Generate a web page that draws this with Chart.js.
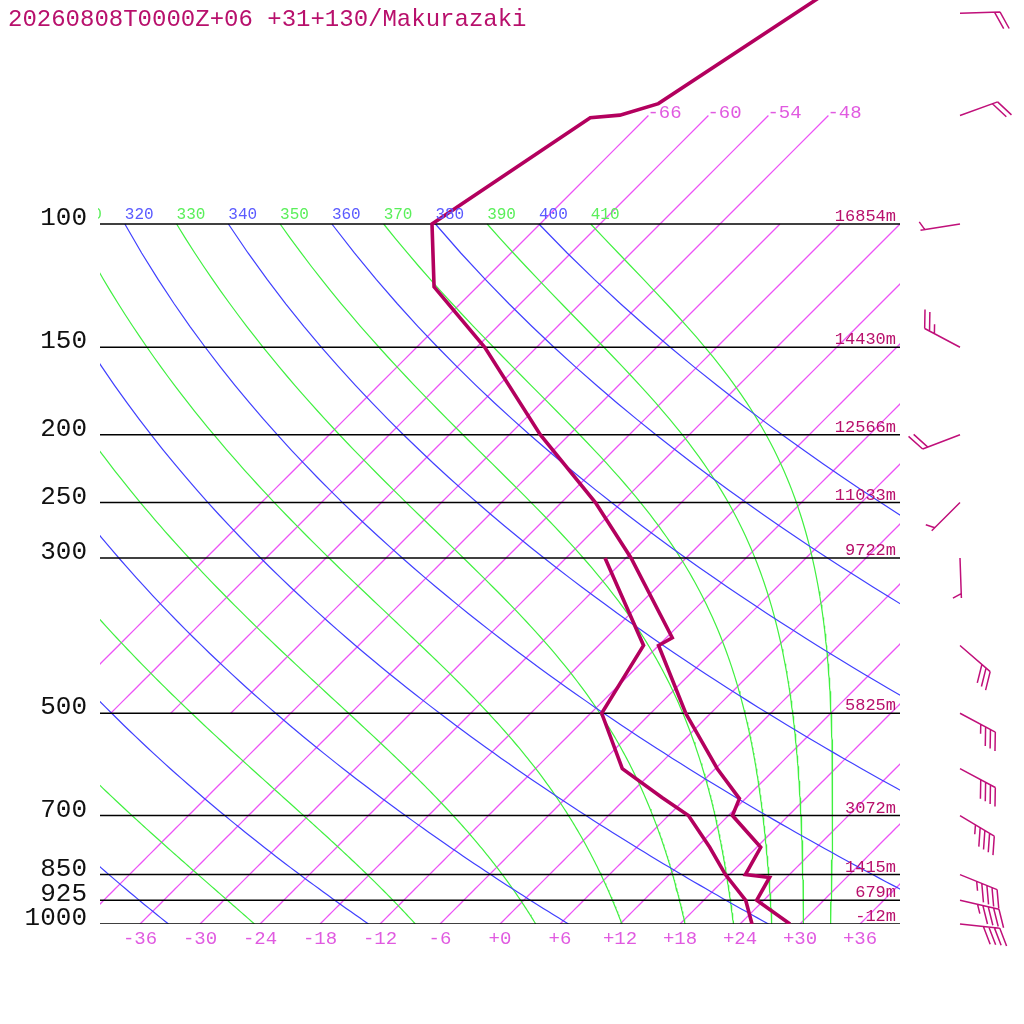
<!DOCTYPE html>
<html>
<head>
<meta charset="utf-8">
<script src="https://cdn.jsdelivr.net/npm/chart.js@4/dist/chart.umd.min.js"></script>
<style>
  html, body { margin: 0; padding: 0; background: #fff; }
  canvas { display: block; }
</style>
</head>
<body>
<canvas id="chart" width="1024" height="1024"></canvas>
<script>
const titleText = "20260808T0000Z+06 +31+130/Makurazaki";

// sounding (hPa, degC)
const tempPressure = [1000, 925, 858, 850, 777, 700, 662, 600, 500, 400, 390, 300, 250, 200, 150, 123, 100, 70.5, 69.9, 67.3, 30];
const tempValues = [29.0, 23.3, 22.3, 19.6, 18.4, 12.4, 11.4, 6.2, -2.5, -12.0, -11.4, -23.5, -32.6, -44.9, -59.2, -70.3, -76.8, -71.6, -68.9, -66.2, -53.5];
const dewPressure = [1000, 925, 850, 777, 700, 660, 600, 500, 400, 300];
const dewValues = [25.2, 22.2, 17.6, 13.3, 8.0, 3.6, -3.3, -10.9, -13.5, -26.1];

// winds (direction from, knots)
const windPressure = [50, 70, 100, 150, 200, 250, 300, 400, 500, 600, 700, 850, 925, 1000];
const windDir = [88, 70, 261, 298, 249, 225, 178, 131, 118, 118, 121, 112, 103, 96];
const windSpeed = [20, 20, 5, 25, 20, 5, 5, 30, 35, 40, 45, 45, 45, 40];

// standard levels and their heights
const levels = [100, 150, 200, 250, 300, 500, 700, 850, 925, 1000];
const levelHeights = ["16854m", "14430m", "12566m", "11033m", "9722m", "5825m", "3072m", "1415m", "679m", "-12m"];

// background lines
const isotherms = [-42, -36, -30, -24, -18, -12, -6, 0, 6, 12, 18, 24, 30, 36];
const isothermsUpper = [-66, -60, -54, -48];
const dryAdiabats = [240, 260, 280, 300, 320, 340, 360, 380, 400];
const moistAdiabats = [250, 270, 290, 310, 330, 350, 370, 390, 410];

const SKEW = 70; // degC per decade of pressure
const P_TOP = 1000 / Math.pow(10, 924 / 700);
const mono = '"Liberation Mono", "DejaVu Sans Mono", monospace';
const ISO_COLOR = "rgb(236, 84, 246)";

const skewX = (t, p) => t + SKEW * Math.log10(1000 / p);

const es = (tk) => 6.112 * Math.exp((17.67 * (tk - 273.15)) / (tk - 29.65));
const moistLapse = (tk, p) => {
  const e = es(tk);
  const r = (0.622 * e) / (p - e);
  return (287 * tk + 2.5e6 * r) / p / (1004 + (2.5e6 * 2.5e6 * r * 0.622) / (287 * tk * tk));
};

const dryLine = (theta) => {
  const pts = [];
  for (let p = 100; p <= 1000; p += 10) {
    pts.push({ x: skewX(theta * Math.pow(p / 1000, 0.286) - 273.15, p), y: p });
  }
  return pts;
};

const moistLine = (theta) => {
  let p = 100;
  let tk = theta * Math.pow(p / 1000, 0.286);
  const pts = [{ x: skewX(tk - 273.15, p), y: p }];
  const dp = 5;
  while (p < 1000) {
    const k1 = moistLapse(tk, p);
    const k2 = moistLapse(tk + (k1 * dp) / 2, p + dp / 2);
    tk += k2 * dp;
    p += dp;
    pts.push({ x: skewX(tk - 273.15, p), y: p });
  }
  return pts;
};

const isoLine = (t, pBottom, pTop) => {
  const pts = [];
  for (let p = pBottom; p >= pTop; p -= 10) pts.push({ x: skewX(t, p), y: p });
  return pts;
};

const lineSet = (data, color, width, order) => ({
  data,
  borderColor: color,
  backgroundColor: color,
  borderWidth: width,
  pointRadius: 0,
  tension: 0,
  fill: false,
  order,
});

const datasets = [];
datasets.push(lineSet(tempPressure.map((p, i) => ({ x: skewX(tempValues[i], p), y: p })), "#b3005e", 3.6, 0));
datasets.push(lineSet(dewPressure.map((p, i) => ({ x: skewX(dewValues[i], p), y: p })), "#b3005e", 3.6, 0));
levels.forEach((p) => datasets.push(lineSet([{ x: -40, y: p }, { x: 40, y: p }], "#000", 1.5, 1)));
dryAdiabats.forEach((th) => datasets.push(lineSet(dryLine(th), "rgb(64, 64, 255)", 1.2, 2)));
moistAdiabats.forEach((th) => datasets.push(lineSet(moistLine(th), "rgb(64, 240, 64)", 1.2, 2)));
isotherms.forEach((t) => datasets.push(lineSet(isoLine(t, 1000, 100), ISO_COLOR, 1.3, 3)));
isothermsUpper.forEach((t) => datasets.push(lineSet(isoLine(t, 500, 70), ISO_COLOR, 1.3, 3)));

const drawBarb = (ctx, x0, y0, dir, speed) => {
  const rad = (dir * Math.PI) / 180;
  const ux = Math.sin(rad);
  const uy = -Math.cos(rad);
  const tipX = x0 + ux * 40;
  const tipY = y0 + uy * 40;
  const fa = Math.atan2(uy, ux) + (63 * Math.PI) / 180;
  const fx = Math.cos(fa);
  const fy = Math.sin(fa);
  const full = Math.floor(speed / 10);
  const half = Math.round((speed - full * 10) / 5);
  ctx.beginPath();
  ctx.moveTo(x0, y0);
  ctx.lineTo(tipX, tipY);
  let pos = full === 0 ? 0.8 : 0;
  for (let i = 0; i < full + half; i++) {
    const len = i < full ? 19 : 9.5;
    const sx = tipX - ux * pos * 5.5;
    const sy = tipY - uy * pos * 5.5;
    ctx.moveTo(sx, sy);
    ctx.lineTo(sx + fx * len, sy + fy * len);
    pos++;
  }
  ctx.stroke();
};

const labelsPlugin = {
  id: "skewLabels",
  afterDraw(chart) {
    const { ctx, scales } = chart;
    const xs = scales.x;
    const ys = scales.y;
    ctx.save();

    // title
    ctx.fillStyle = "#b8106c";
    ctx.font = `24px ${mono}`;
    ctx.textAlign = "left";
    ctx.textBaseline = "alphabetic";
    ctx.fillText(titleText, 8, 26);

    // pressure labels and heights
    levels.forEach((p, i) => {
      const py = ys.getPixelForValue(p);
      ctx.fillStyle = "#111";
      ctx.font = `26px ${mono}`;
      ctx.textAlign = "right";
      ctx.fillText(String(p), 87, py + 1);
      ctx.fillStyle = "#b8106c";
      ctx.font = `17px ${mono}`;
      ctx.fillText(levelHeights[i], 896, py - 3);
    });

    // isotherm labels along the bottom
    ctx.fillStyle = "#e05ae0";
    ctx.font = `19px ${mono}`;
    ctx.textAlign = "center";
    isotherms.forEach((t) => {
      const px = xs.getPixelForValue(skewX(t, 1000));
      if (px < 100 || px > 900) return;
      const txt = t > 0 ? `+${t}` : t === 0 ? "+0" : `-${Math.abs(t)}`;
      ctx.fillText(txt, px, ys.getPixelForValue(1000) + 20);
    });

    // upper isotherm labels
    ctx.textAlign = "left";
    isothermsUpper.forEach((t) => {
      const px = xs.getPixelForValue(skewX(t, 70));
      const py = ys.getPixelForValue(70);
      ctx.fillText(`-${Math.abs(t)}`, px - 1, py + 2);
    });

    // adiabat labels at 100 hPa
    ctx.save();
    ctx.beginPath();
    ctx.rect(98, 190, 802, 40);
    ctx.clip();
    ctx.font = `16px ${mono}`;
    const topY = ys.getPixelForValue(100) - 5;
    dryAdiabats.forEach((th) => {
      const px = xs.getPixelForValue(dryLine(th)[0].x);
      if (px < 60 || px > 880) return;
      ctx.fillStyle = "#5a5aff";
      ctx.fillText(String(th), px, topY);
    });
    moistAdiabats.forEach((th) => {
      const px = xs.getPixelForValue(moistLine(th)[0].x);
      if (px < 60 || px > 880) return;
      ctx.fillStyle = "#5aef5a";
      ctx.fillText(String(th), px, topY);
    });
    ctx.restore();

    // wind barbs
    ctx.strokeStyle = "#c0107a";
    ctx.lineWidth = 1.5;
    windPressure.forEach((p, i) => {
      drawBarb(ctx, 960, ys.getPixelForValue(p), windDir[i], windSpeed[i]);
    });

    ctx.restore();
  },
};

new Chart(document.getElementById("chart").getContext("2d"), {
  type: "line",
  data: { datasets },
  options: {
    responsive: false,
    animation: false,
    devicePixelRatio: 1,
    events: [],
    layout: { padding: { left: 100, right: 124, top: 0, bottom: 100 } },
    plugins: { legend: { display: false }, title: { display: false }, tooltip: { enabled: false } },
    scales: {
      x: { type: "linear", min: -40, max: 40, display: false },
      y: { type: "logarithmic", min: P_TOP, max: 1000, reverse: true, display: false },
    },
  },
  plugins: [labelsPlugin],
});
</script>
</body>
</html>
